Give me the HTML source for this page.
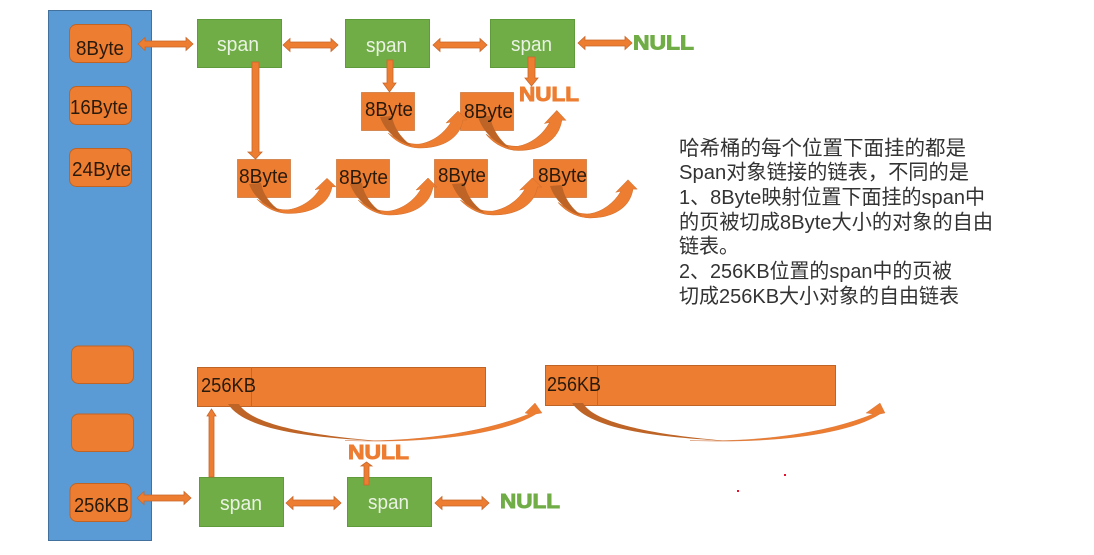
<!DOCTYPE html>
<html><head><meta charset="utf-8"><style>
html,body{margin:0;padding:0;background:#fff}
svg{display:block}
.t{font-family:"Liberation Sans",sans-serif;font-size:20px;fill:#2a1a0c}
.s{font-family:"Liberation Sans",sans-serif;font-size:20px;fill:#eaf3e3}
.n{font-family:"Liberation Sans",sans-serif;font-size:20px;font-weight:bold;stroke-width:.9}
.g{fill:#70AD47;stroke:#70AD47}
.o{fill:#ED7D31;stroke:#ED7D31}
.c{font-family:"Liberation Sans","Noto Sans CJK SC",sans-serif;font-size:20.500px;fill:#333}
.a{fill:#ED7D31;stroke:#C8672B;stroke-width:.8}
.sp{fill:#70AD47;stroke:#5f9a3b;stroke-width:1}
.b{fill:#ED7D31;stroke:#BE6426;stroke-width:1}
</style></head><body>
<svg width="1094" height="555" viewBox="0 0 1094 555" xmlns="http://www.w3.org/2000/svg">
<defs>
<g id="curve">
<path d="M8,16 C17,26 29,31 40,31 C63,31 80,21 83,3 L87,3 L78,-6 L66,6 L71,5 C64,17 52,25 40,27 C30,28 20,24 8,16Z" fill="#ED7D31" stroke="#D06F2C" stroke-width=".5"/>
<path d="M0,0 L12,-1 C14,11 21,21 32,29 C17,25 5,14 0,0Z" fill="#BE6426"/>
</g>
</defs>

<rect x="48.500" y="10.500" width="103" height="530" fill="#5B9BD5" stroke="#41719C"/>
<rect x="69.500" y="24.500" width="62" height="38" rx="7" class="b"/>
<rect x="69.500" y="86.500" width="62" height="38" rx="7" class="b"/>
<rect x="69.500" y="148.500" width="62" height="38" rx="7" class="b"/>
<rect x="71.500" y="346" width="62" height="37.500" rx="7" class="b"/>
<rect x="71.500" y="414" width="62" height="37.500" rx="7" class="b"/>
<rect x="70" y="483.500" width="61" height="38" rx="7" class="b"/>
<text class="t" x="76" y="55" textLength="48" lengthAdjust="spacingAndGlyphs">8Byte</text>
<text class="t" x="70" y="114" textLength="58" lengthAdjust="spacingAndGlyphs">16Byte</text>
<text class="t" x="72" y="176" textLength="59" lengthAdjust="spacingAndGlyphs">24Byte</text>
<text class="t" x="74" y="512" textLength="55" lengthAdjust="spacingAndGlyphs">256KB</text>

<rect x="197.500" y="19.500" width="84" height="48" class="sp"/>
<rect x="345.500" y="19.500" width="84" height="48" class="sp"/>
<rect x="490.500" y="19.500" width="84" height="48" class="sp"/>
<rect x="199.500" y="477.500" width="84" height="49" class="sp"/>
<rect x="347.500" y="477.500" width="84" height="49" class="sp"/>
<text class="s" x="217" y="51" textLength="42" lengthAdjust="spacingAndGlyphs">span</text>
<text class="s" x="366" y="52" textLength="41" lengthAdjust="spacingAndGlyphs">span</text>
<text class="s" x="511" y="51" textLength="41" lengthAdjust="spacingAndGlyphs">span</text>
<text class="s" x="220" y="510" textLength="42" lengthAdjust="spacingAndGlyphs">span</text>
<text class="s" x="368" y="509" textLength="41" lengthAdjust="spacingAndGlyphs">span</text>

<!-- double arrows -->
<polygon class="a" points="138,44 145,37.500 145,41 186,41 186,37.500 193,44 186,50.500 186,47 145,47 145,50.500"/>
<polygon class="a" points="283,45 290,38.500 290,42 331,42 331,38.500 338,45 331,51.500 331,48 290,48 290,51.500"/>
<polygon class="a" points="433,45 440,38.500 440,42 480,42 480,38.500 487,45 480,51.500 480,48 440,48 440,51.500"/>
<polygon class="a" points="578,43 585,36.500 585,40 625,40 625,36.500 632,43 625,49.500 625,46 585,46 585,49.500"/>
<polygon class="a" points="137,498 144,491.500 144,495 184,495 184,491.500 191,498 184,504.500 184,501 144,501 144,504.500"/>
<polygon class="a" points="286,503 293,496.500 293,500 334,500 334,496.500 341,503 334,509.500 334,506 293,506 293,509.500"/>
<polygon class="a" points="435,503 442,496.500 442,500 482,500 482,496.500 489,503 482,509.500 482,506 442,506 442,509.500"/>

<!-- 8Byte boxes -->
<rect x="237.500" y="159.500" width="53" height="38" class="b" stroke-opacity=".6"/>
<rect x="336.500" y="159.500" width="53" height="38" class="b" stroke-opacity=".6"/>
<rect x="434.500" y="159.500" width="53" height="38" class="b" stroke-opacity=".6"/>
<rect x="533.500" y="159.500" width="53" height="38" class="b" stroke-opacity=".6"/>
<rect x="361.500" y="92.500" width="53" height="38" class="b" stroke-opacity=".6"/>
<rect x="460.500" y="92.500" width="53" height="38" class="b" stroke-opacity=".6"/>

<!-- vertical arrows -->
<polygon class="a" points="252,62 259,62 259,152 262,152 255.500,159 248,152 252,152"/>
<polygon class="a" points="387,60 393,60 393,83 396,83 389.500,92 383,83 387,83"/>
<polygon class="a" points="528,57 535,57 535,78 538,78 531.500,86 525,78 528,78"/>
<polygon class="a" points="209,477 214,477 214,416 216,416 211.500,409 207,416 209,416"/>
<polygon class="a" points="364,485 369,485 369,466 372,466 366.500,462 361,466 364,466"/>

<!-- curved arrows -->
<use href="#curve" transform="translate(249,184) scale(1,.95)"/>
<use href="#curve" transform="translate(380,117)"/>
<use href="#curve" transform="translate(478,117) scale(1.01,1.08)"/>
<use href="#curve" transform="translate(350,184)"/>
<use href="#curve" transform="translate(452,184) scale(1.03,1)"/>
<use href="#curve" transform="translate(550,186) scale(1,1.03)"/>

<text class="t" x="239" y="183" textLength="49" lengthAdjust="spacingAndGlyphs">8Byte</text>
<text class="t" x="339" y="184" textLength="49" lengthAdjust="spacingAndGlyphs">8Byte</text>
<text class="t" x="438" y="182" textLength="48" lengthAdjust="spacingAndGlyphs">8Byte</text>
<text class="t" x="538" y="182" textLength="49" lengthAdjust="spacingAndGlyphs">8Byte</text>
<text class="t" x="365" y="116" textLength="48" lengthAdjust="spacingAndGlyphs">8Byte</text>
<text class="t" x="464" y="118" textLength="49" lengthAdjust="spacingAndGlyphs">8Byte</text>

<!-- 256KB bars -->
<rect x="197.500" y="367.500" width="288" height="39" class="b"/>
<line x1="251.500" y1="367" x2="251.500" y2="406" stroke="#C8672B"/>
<rect x="545.500" y="365.500" width="290" height="40" class="b"/>
<line x1="597.500" y1="365" x2="597.500" y2="405" stroke="#C8672B"/>
<text class="t" x="201" y="392" textLength="55" lengthAdjust="spacingAndGlyphs">256KB</text>
<text class="t" x="547" y="391" textLength="54" lengthAdjust="spacingAndGlyphs">256KB</text>

<!-- long curved arrows -->
<path d="M345,440.500 C410,442.500 480,434 529,414 L525,413 L535,403 L542,413 L536,414 C500,436 420,443.500 345,440.500Z" fill="#ED7D31" stroke="#C8672B" stroke-width=".3"/>
<path d="M228,404 L239,404 C248,420 290,434 380,441 C295,437 243,427 228,404Z" fill="#BE6426"/>
<path d="M690,440.500 C755,442.500 825,434 873,414 L866,413 L880,403 L885,413 L880,414 C845,436 765,443.500 690,440.500Z" fill="#ED7D31" stroke="#C8672B" stroke-width=".3"/>
<path d="M572,403 L583,403 C592,420 640,434 730,441 C645,437 588,427 572,403Z" fill="#BE6426"/>

<!-- NULLs -->
<text class="n g" x="633" y="49.500" textLength="61" lengthAdjust="spacingAndGlyphs">NULL</text>
<text class="n o" x="519" y="101" textLength="60" lengthAdjust="spacingAndGlyphs">NULL</text>
<text class="n o" x="348" y="459" textLength="61" lengthAdjust="spacingAndGlyphs">NULL</text>
<text class="n g" x="500" y="508" textLength="60" lengthAdjust="spacingAndGlyphs">NULL</text>

<!-- description -->
<text class="c" x="679" y="155" textLength="287" lengthAdjust="spacingAndGlyphs">哈希桶的每个位置下面挂的都是</text>
<text class="c" x="679" y="179" textLength="290" lengthAdjust="spacingAndGlyphs">Span对象链接的链表，不同的是</text>
<text class="c" x="679" y="204" textLength="306" lengthAdjust="spacingAndGlyphs">1、8Byte映射位置下面挂的span中</text>
<text class="c" x="679" y="229" textLength="314" lengthAdjust="spacingAndGlyphs">的页被切成8Byte大小的对象的自由</text>
<text class="c" x="679" y="253" textLength="60" lengthAdjust="spacingAndGlyphs">链表。</text>
<text class="c" x="679" y="278" textLength="273" lengthAdjust="spacingAndGlyphs">2、256KB位置的span中的页被</text>
<text class="c" x="679" y="303" textLength="280" lengthAdjust="spacingAndGlyphs">切成256KB大小对象的自由链表</text>

<rect x="784" y="474" width="2" height="2" fill="#e8112d"/>
<rect x="737" y="490" width="2" height="2" fill="#e8112d"/>
</svg>
</body></html>
